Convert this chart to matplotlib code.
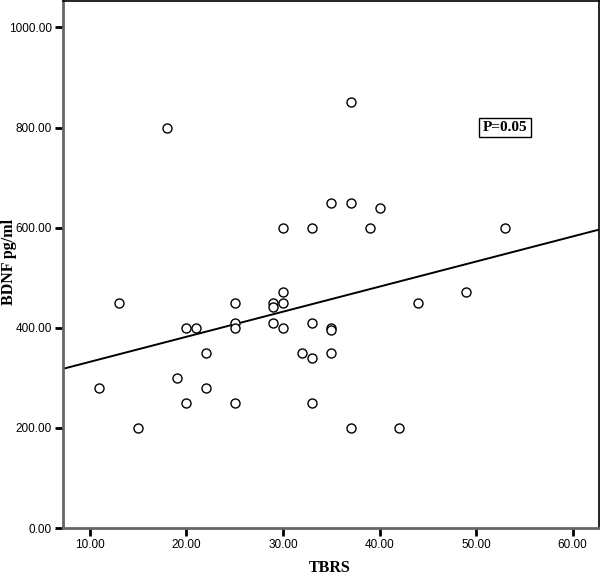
import numpy as np
import matplotlib.pyplot as plt

# TBRS score vs serum BDNF (pg/ml)
tbrs = [11, 13, 15, 18, 19, 20, 20, 21, 22, 22,
        25, 25, 25, 25, 29, 29, 29, 30, 30, 30,
        30, 32, 33, 33, 33, 33, 35, 35, 35, 35,
        37, 37, 37, 39, 40, 42, 44, 49, 53]
bdnf = [280, 450, 200, 800, 300, 400, 250, 400, 350, 280,
        450, 410, 400, 250, 450, 441, 410, 600, 472, 450,
        400, 350, 600, 410, 340, 250, 650, 400, 396, 350,
        850, 650, 200, 600, 640, 200, 450, 472, 600]

x_ticks = [10, 20, 30, 40, 50, 60]
y_ticks = [0, 200, 400, 600, 800, 1000]
p_text = "P=0.05"

x = np.array(tbrs, dtype=float)
y = np.array(bdnf, dtype=float)
slope, intercept = np.polyfit(x, y, 1)

fig = plt.figure(figsize=(6.0, 5.78), dpi=100)
ax = fig.add_axes([0.1045, 0.0865, 0.8935, 0.912])

xlim = (7.2, 62.7)
ax.set_xlim(xlim)
ax.set_ylim(0, 1053)

ax.plot(x, y, 'o', mfc='white', mec='black', mew=1.0, ms=6.5, zorder=3)
xx = np.array(xlim)
ax.plot(xx, slope * xx + intercept, color='black', lw=1.4, zorder=2)

ax.set_xticks(x_ticks)
ax.set_xticklabels([f"{v:.2f}" for v in x_ticks])
ax.set_yticks(y_ticks)
ax.set_yticklabels([f"{v:.2f}" for v in y_ticks])

tick_font = ['Liberation Sans Narrow', 'Liberation Sans', 'DejaVu Sans']
for lab in ax.get_xticklabels() + ax.get_yticklabels():
    lab.set_family(tick_font)
    lab.set_fontsize(8.5)

ax.tick_params(direction='out', length=6, width=2, color='black', pad=2)

for side in ['left', 'bottom']:
    ax.spines[side].set_color('#666666')
    ax.spines[side].set_linewidth(2)
for side in ['top', 'right']:
    ax.spines[side].set_color('black')
    ax.spines[side].set_linewidth(1.2)

# axis titles placed in figure pixels so they stay inside the canvas
label_font = dict(family='Liberation Serif', fontweight='bold', fontsize=11.5)
fig.text(330 / 600, 1 - 568 / 578, "TBRS", ha='center', va='center', **label_font)
fig.text(9 / 600, 1 - 262 / 578, "BDNF pg/ml", ha='center', va='center',
         rotation=90, **label_font)

ax.text(53, 800, p_text, ha='center', va='center', family='Liberation Serif',
        fontweight='bold', fontsize=11,
        bbox=dict(boxstyle='square,pad=0.22', fc='white', ec='black', lw=1))

fig.savefig("out.png", dpi=100)
